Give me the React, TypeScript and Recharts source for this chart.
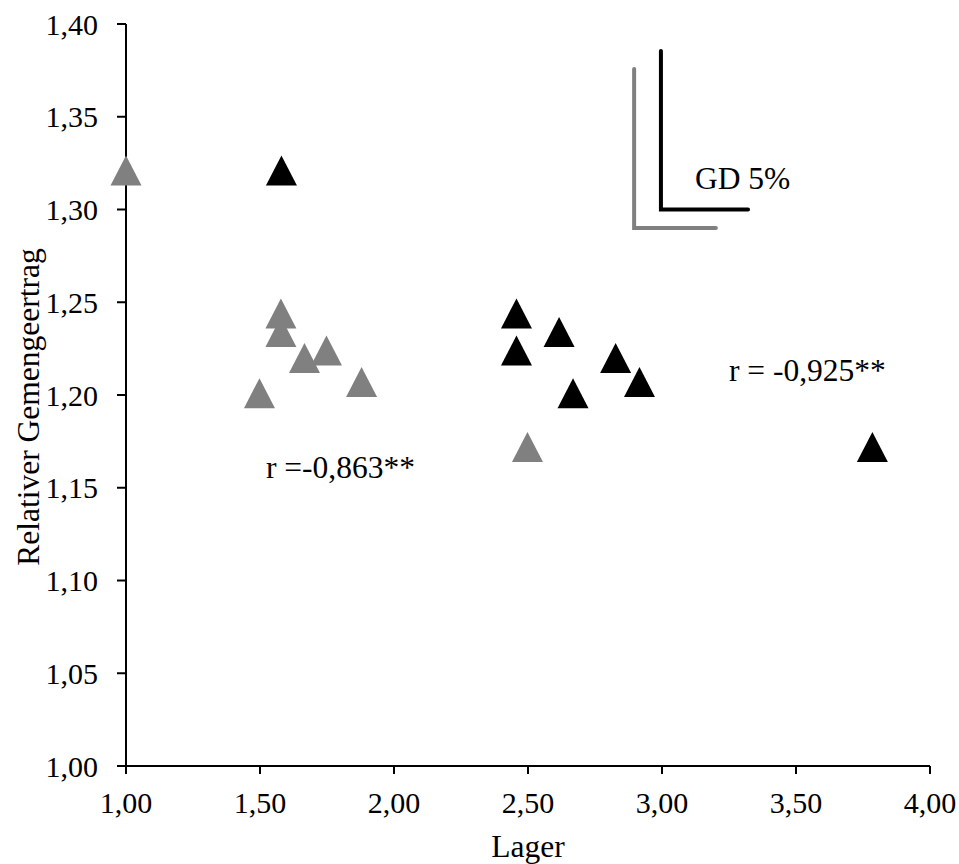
import React from 'react';
import { ScatterChart, Scatter, XAxis, YAxis, ReferenceDot } from 'recharts';

// Relative mixture yield (shared by both series) against lodging score
const relYield = [1.321, 1.244, 1.234, 1.220, 1.224, 1.201, 1.207, 1.172];
const lagerGrau = [1.0, 1.578, 1.578, 1.666, 1.748, 1.498, 1.879, 2.498];
const lagerSchwarz = [1.58, 2.457, 2.616, 2.827, 2.457, 2.668, 2.916, 3.785];

// LSD (GD 5%) bars: [x, y] corner points of each L
const gdGrau = [
  [2.896, 1.3757],
  [2.896, 1.29],
  [3.201, 1.29],
];
const gdSchwarz = [
  [2.996, 1.3855],
  [2.996, 1.3],
  [3.321, 1.3],
];

const xTicks = [1, 1.5, 2, 2.5, 3, 3.5, 4];
const yTicks = [1, 1.05, 1.1, 1.15, 1.2, 1.25, 1.3, 1.35, 1.4];

const labelGD = 'GD 5%';
const labelRSchwarz = 'r = -0,925**';
const labelRGrau = 'r =-0,863**';

const FONT = '"Liberation Serif", "Times New Roman", serif';
const FS = 30;
const FS_TITLE = 31.5;
const FS_NOTE = 31.5;
const GRAU = '#808080';
const SCHWARZ = '#000000';

const grauData = lagerGrau.map((x, i) => ({ x, y: relYield[i] }));
const schwarzData = lagerSchwarz.map((x, i) => ({ x, y: relYield[i] }));
const gdGrauData = gdGrau.map(([x, y]) => ({ x, y }));
const gdSchwarzData = gdSchwarz.map(([x, y]) => ({ x, y }));

const fmt = (v: number) => v.toFixed(2).replace('.', ',');

const Triangle = (props: any) => {
  const { cx, cy, fill } = props;
  if (cx == null || cy == null) return <g />;
  const hw = 15.5;
  const hh = 15;
  return (
    <polygon
      points={`${cx},${cy - hh} ${cx + hw},${cy + hh} ${cx - hw},${cy + hh}`}
      fill={fill}
    />
  );
};

const NoDot = () => <g />;

const textAt = (value: string) => (props: any) => (
  <text
    x={props.cx}
    y={props.cy}
    fontFamily={FONT}
    fontSize={FS_NOTE}
    fill="#000"
    textAnchor="start"
  >
    {value}
  </text>
);

// Rotated title beside the value axis
const YTitle = () => {
  const x = 39;
  const y = 407;
  return (
    <text
      x={x}
      y={y}
      transform={`rotate(-90, ${x}, ${y})`}
      textAnchor="middle"
      fontFamily={FONT}
      fontSize={FS_TITLE}
      fill="#000"
    >
      Relativer Gemengeertrag
    </text>
  );
};

const tickStyle = { fontFamily: FONT, fontSize: FS, fill: '#000' };

export default function App() {
  return (
    <div style={{ position: 'absolute', left: 0, top: 0, background: '#fff' }}>
      <ScatterChart
        width={959}
        height={864}
        margin={{ top: 24, right: 29, bottom: 0, left: 0 }}
      >
        <XAxis
          type="number"
          dataKey="x"
          domain={[1, 4]}
          ticks={xTicks}
          tickFormatter={fmt}
          height={98}
          tickSize={8}
          tickMargin={18}
          tick={tickStyle}
          stroke="#000"
          strokeWidth={2}
          label={{
            value: 'Lager',
            position: 'insideBottom',
            offset: 7,
            fill: '#000',
            fontSize: FS_TITLE,
            fontFamily: FONT,
          }}
        />
        <YAxis
          type="number"
          dataKey="y"
          domain={[1, 1.4]}
          ticks={yTicks}
          tickFormatter={fmt}
          width={126}
          tickSize={9}
          tickMargin={19}
          tick={tickStyle}
          stroke="#000"
          strokeWidth={2}
          label={{ content: YTitle }}
        />
        <XAxis
          xAxisId="top"
          orientation="top"
          type="number"
          domain={[1, 4]}
          height={0}
          tick={false}
          tickLine={false}
          stroke="#000"
          strokeWidth={2}
        />
        <YAxis
          yAxisId="right"
          orientation="right"
          type="number"
          domain={[1, 1.4]}
          width={0}
          tick={false}
          tickLine={false}
          stroke="#000"
          strokeWidth={2}
        />
        <Scatter
          data={gdGrauData}
          fill="none"
          shape={NoDot}
          line={{ stroke: GRAU, strokeWidth: 4, fill: 'none', strokeLinecap: 'round' }}
          isAnimationActive={false}
        />
        <Scatter
          data={gdSchwarzData}
          fill="none"
          shape={NoDot}
          line={{ stroke: SCHWARZ, strokeWidth: 4, fill: 'none', strokeLinecap: 'round' }}
          isAnimationActive={false}
        />
        <Scatter
          data={grauData}
          fill={GRAU}
          shape={Triangle}
          isAnimationActive={false}
        />
        <Scatter
          data={schwarzData}
          fill={SCHWARZ}
          shape={Triangle}
          isAnimationActive={false}
        />
        <ReferenceDot x={3.123} y={1.311} r={0} shape={textAt(labelGD)} />
        <ReferenceDot x={3.25} y={1.2075} r={0} shape={textAt(labelRSchwarz)} />
        <ReferenceDot x={1.522} y={1.1555} r={0} shape={textAt(labelRGrau)} />
      </ScatterChart>
    </div>
  );
}
